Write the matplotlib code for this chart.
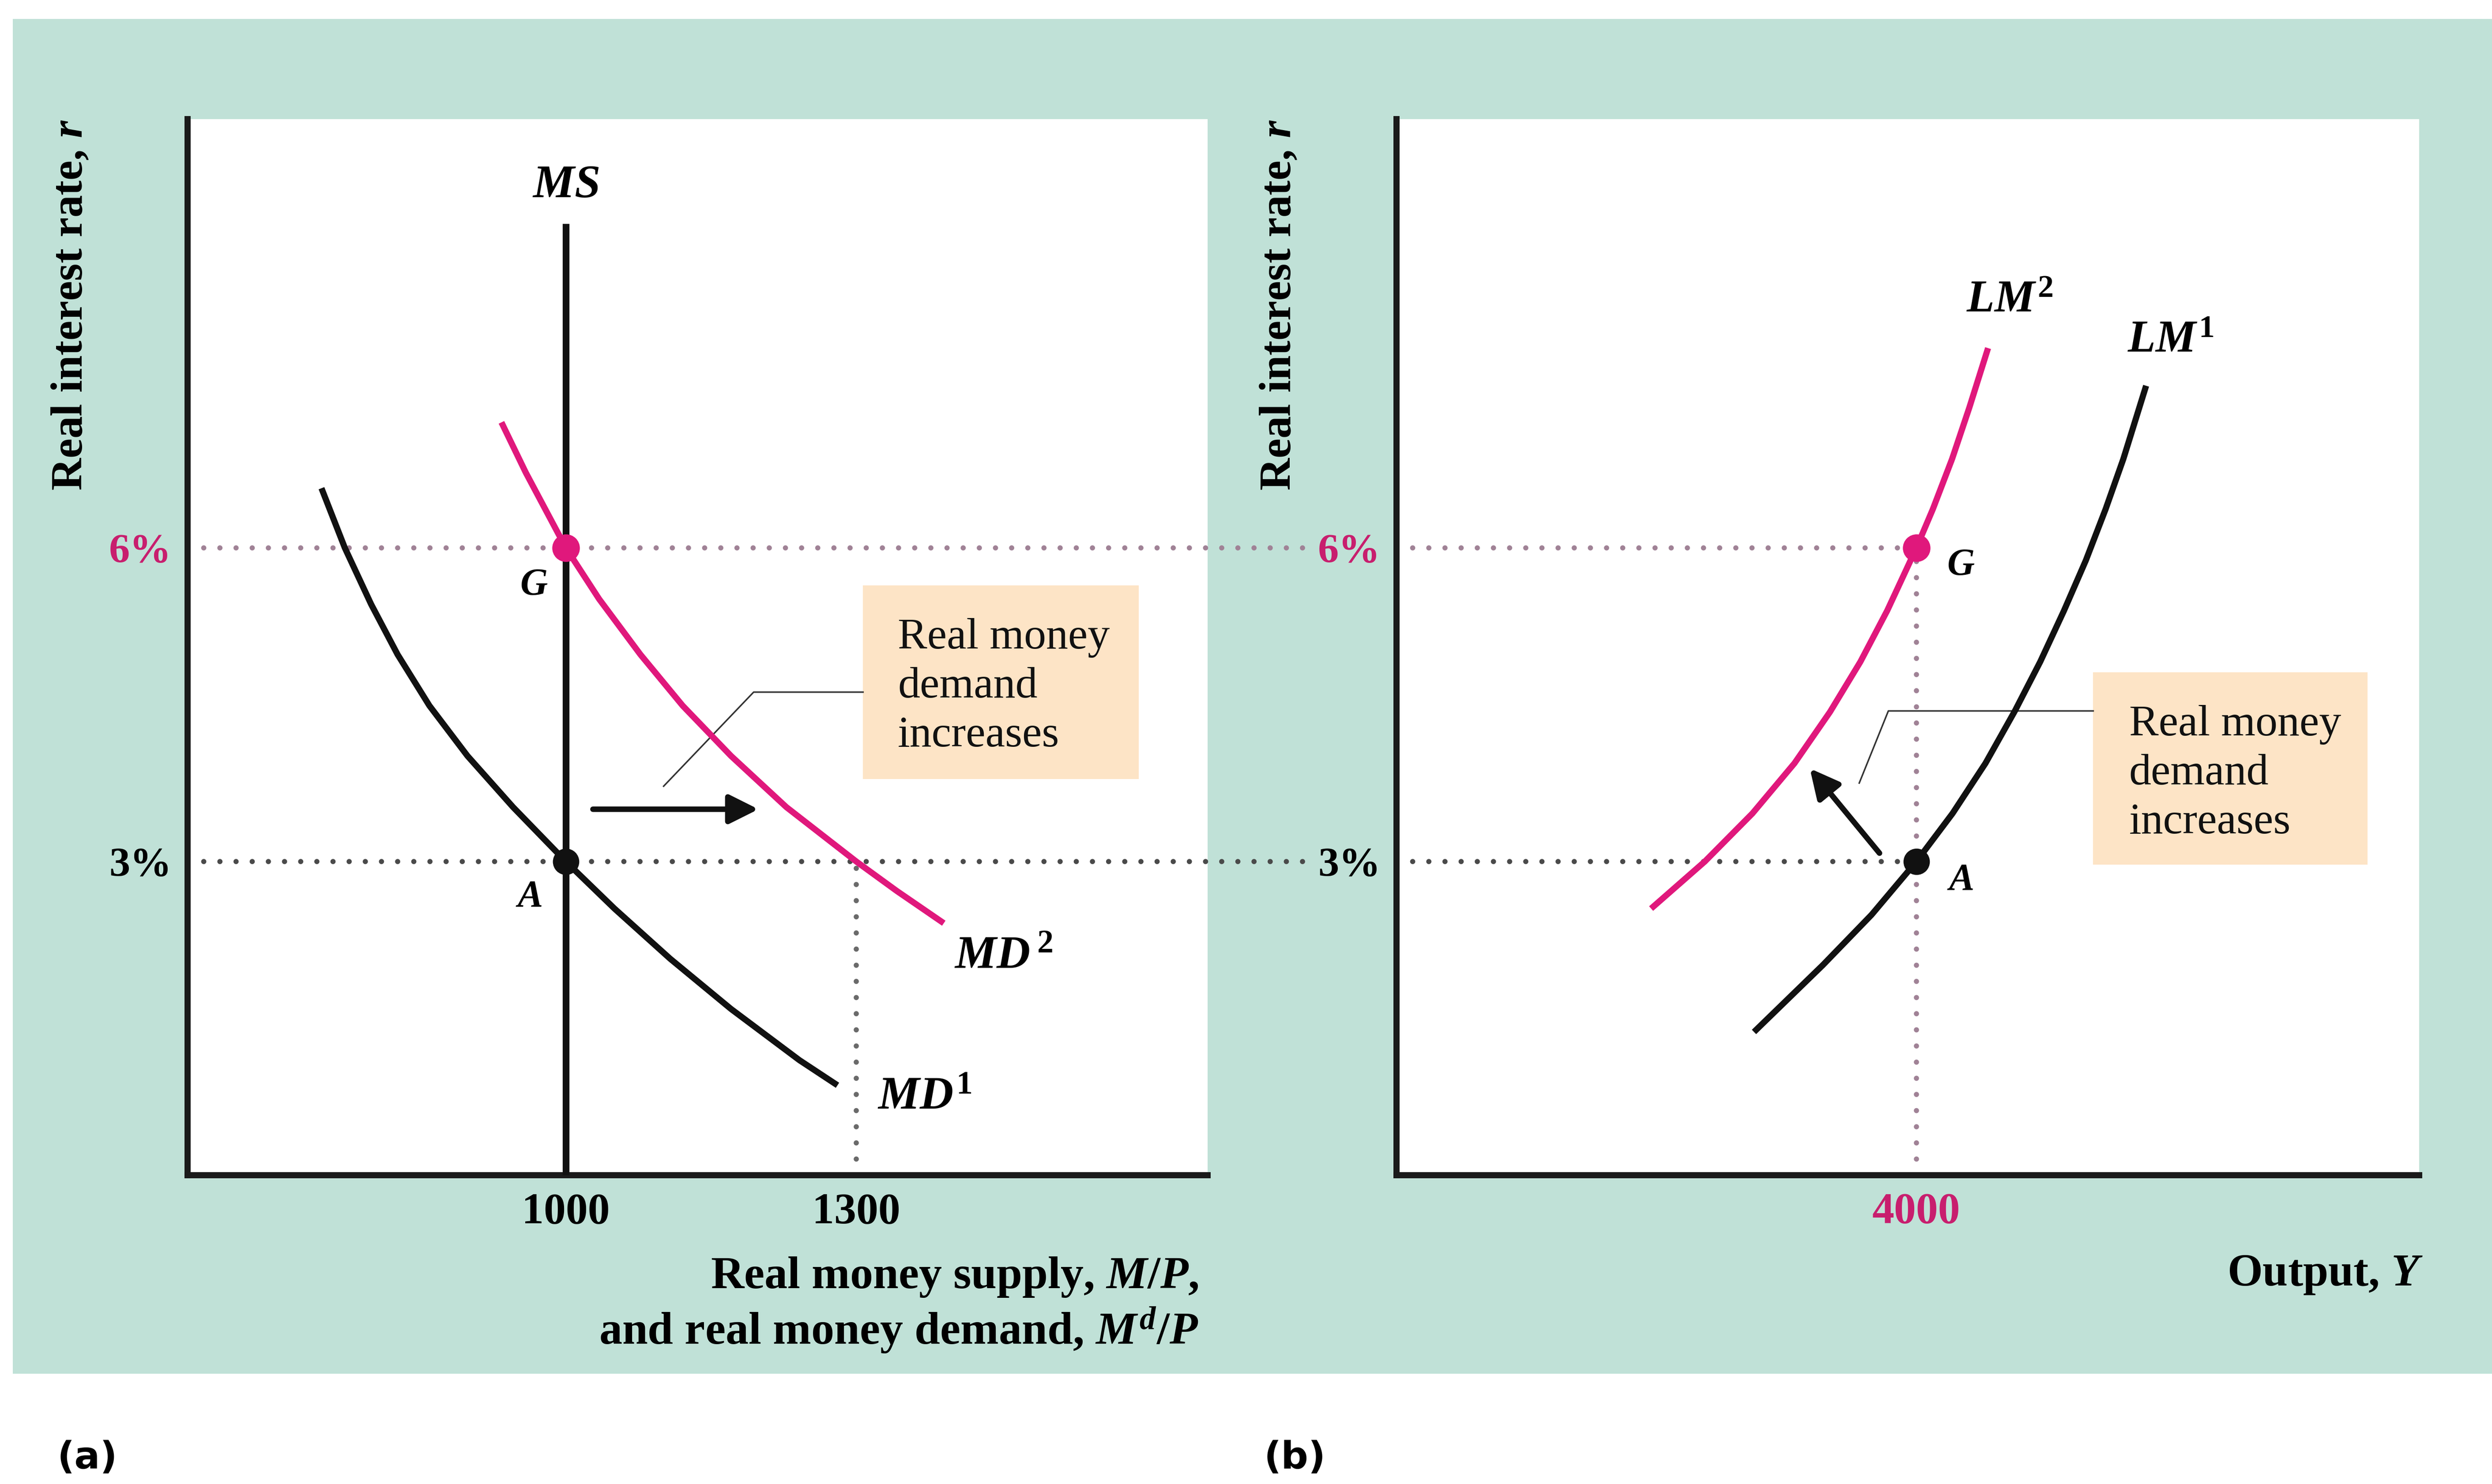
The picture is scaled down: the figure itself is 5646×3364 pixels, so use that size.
import matplotlib
matplotlib.use("Agg")
import matplotlib.pyplot as plt
from matplotlib.patches import Rectangle
from matplotlib.transforms import blended_transform_factory

plt.rcParams['font.family'] = ['Liberation Serif', 'DejaVu Serif']
plt.rcParams['mathtext.fontset'] = 'custom'
plt.rcParams['mathtext.rm'] = 'Liberation Serif:bold'
plt.rcParams['mathtext.it'] = 'Liberation Serif:italic:bold'
plt.rcParams['mathtext.bf'] = 'Liberation Serif:bold'

# ---------------- data ----------------
rate_ticks = [3, 6]
rate_tick_labels = ['3%', '6%']
money_ticks = [1000, 1300]
money_tick_labels = ['1000', '1300']
output_ticks = [4000]
output_tick_labels = ['4000']

# money supply (vertical) and its top
ms_level = 1000
ms_top = 9.1

# money demand curves: real money (x) vs real interest rate (y)
md1_x = [747.6, 771.7, 798.9, 826.2, 859.1, 898.4, 945.5, 1000.0,
         1050.2, 1107.8, 1170.6, 1241.3, 1280.6]
md1_y = [6.57, 6.00, 5.46, 4.98, 4.49, 4.01, 3.52, 3.00,
         2.55, 2.07, 1.59, 1.10, 0.86]
md2_x = [933.5, 958.6, 1000.0, 1034.4, 1077.0, 1120.7, 1170.6, 1227.8,
         1300.0, 1341.6, 1390.4]
md2_y = [7.20, 6.72, 6.00, 5.51, 4.98, 4.49, 4.01, 3.52,
         3.00, 2.72, 2.41]

# LM curves: output (x) vs real interest rate (y)
lm1_x = [3687.6, 3820.1, 3913.6, 4000.0, 4069.5, 4132.9, 4189.4, 4238.1,
         4283.9, 4325.9, 4363.9, 4398.0, 4441.8]
lm1_y = [1.37, 2.01, 2.49, 3.00, 3.46, 3.94, 4.44, 4.91,
         5.40, 5.88, 6.37, 6.85, 7.55]
lm2_x = [3489.7, 3593.0, 3684.6, 3765.5, 3833.7, 3892.2, 3943.9, 4000.0,
         4031.6, 4068.6, 4101.7, 4137.8]
lm2_y = [2.55, 3.00, 3.46, 3.94, 4.43, 4.91, 5.40, 6.00,
         6.37, 6.85, 7.34, 7.91]

# equilibrium points
money_A = (1000, 3)
money_G = (1000, 6)
output_A = (4000, 3)
output_G = (4000, 6)
md2_at_A_rate = 1300

# ---------------- style ----------------
TEAL = '#c0e1d7'
PINK = '#e0187c'
PINK_TXT = '#c81e6e'
MAUVE = '#a08296'
DARKDOT = '#4a4a4a'
GREYDOT = '#6a6a6a'
BLACK = '#111111'
BOX = '#fde4c6'

W, H = 5646, 3364
fig = plt.figure(figsize=(W / 100, H / 100), dpi=100)
fig.patch.set_facecolor('white')
fig.add_artist(Rectangle((29 / W, (H - 3114) / H), 1 - 29 / W, (3114 - 43) / H,
                         transform=fig.transFigure, facecolor=TEAL,
                         edgecolor='none', zorder=0))

ax_a = fig.add_axes([425 / W, (H - 2664) / H, (2736 - 425) / W, (2664 - 270) / H])
ax_b = fig.add_axes([3164 / W, (H - 2664) / H, (5481 - 3164) / W, (2664 - 270) / H])

ax_a.set_xlim(609.3, 1662.9)
ax_b.set_xlim(3000, 4967)
for ax in (ax_a, ax_b):
    ax.set_ylim(0, 10.1)
    ax.set_facecolor('white')
    for s in ('top', 'right'):
        ax.spines[s].set_visible(False)
    for s in ('left', 'bottom'):
        ax.spines[s].set_linewidth(10)
        ax.spines[s].set_color('#1a1a1a')
        ax.spines[s].set_capstyle('projecting')
    ax.tick_params(length=0, pad=26)
    ax.set_yticks(rate_ticks)
    ax.set_yticklabels(rate_tick_labels, fontweight='bold', fontsize=68)
    ax.get_yticklabels()[1].set_color(PINK_TXT)

ax_a.set_xticks(money_ticks)
ax_a.set_xticklabels(money_tick_labels, fontweight='bold', fontsize=72)
ax_b.set_xticks(output_ticks)
ax_b.set_xticklabels(output_tick_labels, fontweight='bold', fontsize=72,
                     color=PINK_TXT)
ax_a.tick_params(axis='x', pad=28)
ax_b.tick_params(axis='x', pad=28)

dot_kw = dict(lw=8.5, dash_capstyle='round', linestyle=(0, (0.001, 3.1)), zorder=1)

# horizontal guides running from panel (a) across to panel (b)
span = blended_transform_factory(ax_a.transAxes, ax_a.transData)
ax_a.plot([0, 1.1034], [6, 6], color=MAUVE, transform=span, clip_on=False, **dot_kw)
ax_a.plot([0, 1.1034], [3, 3], color=DARKDOT, transform=span, clip_on=False, **dot_kw)
ax_a.plot([md2_at_A_rate, md2_at_A_rate], [0, 3], color=GREYDOT, **dot_kw)

ax_b.plot([3000, output_G[0]], [6, 6], color=MAUVE, **dot_kw)
ax_b.plot([3000, output_A[0]], [3, 3], color=DARKDOT, **dot_kw)
ax_b.plot([output_G[0], output_G[0]], [0, 6], color=MAUVE, **dot_kw)

curve_kw = dict(lw=10, zorder=3, solid_capstyle='butt', solid_joinstyle='round')

# ---- panel (a) ----
ax_a.plot([ms_level, ms_level], [0, ms_top], color=BLACK, lw=11, zorder=3,
          solid_capstyle='butt')
ax_a.plot(md1_x, md1_y, color=BLACK, **curve_kw)
ax_a.plot(md2_x, md2_y, color=PINK, **curve_kw)
ax_a.plot(*money_G, 'o', color=PINK, ms=44, zorder=5)
ax_a.plot(*money_A, 'o', color=BLACK, ms=42, zorder=5)

ax_a.text(1000, 9.46, r'$MS$', fontsize=76, ha='center', va='center')
ax_a.text(967, 5.64, r'$G$', fontsize=62, ha='center', va='center')
ax_a.text(962, 2.66, r'$A$', fontsize=62, ha='center', va='center')
ax_a.text(1401, 2.09, r'$MD^{\,\mathrm{2}}$', fontsize=76, ha='left', va='center')
ax_a.text(1322, 0.74, r'$MD^{\mathrm{1}}$', fontsize=76, ha='left', va='center')

ax_a.add_patch(Rectangle((1307, 3.79), 1592 - 1307, 5.64 - 3.79,
                         facecolor=BOX, edgecolor='none', zorder=2))
ax_a.text(1343, 4.67, 'Real money\ndemand\nincreases', fontsize=72,
          ha='left', va='center', linespacing=1.3, color=BLACK, zorder=4)
ax_a.plot([1307, 1194, 1101], [4.62, 4.62, 3.72], color='#333333', lw=2.5, zorder=2)
ax_a.annotate('', xy=(1199, 3.5), xytext=(1028, 3.5),
              arrowprops=dict(arrowstyle='-|>,head_length=0.8,head_width=0.4',
                              lw=9, color=BLACK, mutation_scale=50,
                              shrinkA=0, shrinkB=0), zorder=4)

# ---- panel (b) ----
ax_b.plot(lm1_x, lm1_y, color=BLACK, **curve_kw)
ax_b.plot(lm2_x, lm2_y, color=PINK, **curve_kw)
ax_b.plot(*output_G, 'o', color=PINK, ms=44, zorder=5)
ax_b.plot(*output_A, 'o', color=BLACK, ms=42, zorder=5)

ax_b.text(4059, 5.83, r'$G$', fontsize=62, ha='left', va='center')
ax_b.text(4059, 2.82, r'$A$', fontsize=62, ha='left', va='center')
ax_b.text(4096, 8.36, r'$LM^{\mathrm{2}}$', fontsize=74, ha='left', va='center')
ax_b.text(4406, 7.98, r'$LM^{\mathrm{1}}$', fontsize=74, ha='left', va='center')

ax_b.add_patch(Rectangle((4340, 2.97), 4868 - 4340, 4.81 - 2.97,
                         facecolor=BOX, edgecolor='none', zorder=2))
ax_b.text(4409, 3.84, 'Real money\ndemand\nincreases', fontsize=72,
          ha='left', va='center', linespacing=1.3, color=BLACK, zorder=4)
ax_b.plot([4340, 3946, 3890], [4.44, 4.44, 3.75], color='#333333', lw=2.5, zorder=2)
ax_b.annotate('', xy=(3795, 3.89), xytext=(3929, 3.08),
              arrowprops=dict(arrowstyle='-|>,head_length=0.8,head_width=0.4',
                              lw=9, color=BLACK, mutation_scale=50,
                              shrinkA=0, shrinkB=0), zorder=4)

# ---- axis titles ----
ax_a.text(-0.1138, 1.0, 'Real interest rate, $r$', transform=ax_a.transAxes,
          rotation=90, ha='center', va='top', fontsize=73, fontweight='bold')
ax_b.text(-0.114, 1.0, 'Real interest rate, $r$', transform=ax_b.transAxes,
          rotation=90, ha='center', va='top', fontsize=73, fontweight='bold')
ax_a.text(0.9913, -0.1236,
          'Real money supply, $M/P$,\nand real money demand, $M^d/P$',
          transform=ax_a.transAxes, ha='right', va='center', multialignment='right',
          fontsize=75, fontweight='bold', linespacing=1.18)
ax_b.text(1.0039, -0.0948, 'Output, $Y$', transform=ax_b.transAxes,
          ha='right', va='center', fontsize=74, fontweight='bold')

# ---- panel tags ----
fig.text(198 / W, 1 - 3305 / H, '(a)', family='DejaVu Sans', fontweight='bold',
         fontsize=62, ha='center', va='center')
fig.text(2934 / W, 1 - 3305 / H, '(b)', family='DejaVu Sans', fontweight='bold',
         fontsize=62, ha='center', va='center')

fig.savefig('out.png', dpi=100, facecolor='white')
